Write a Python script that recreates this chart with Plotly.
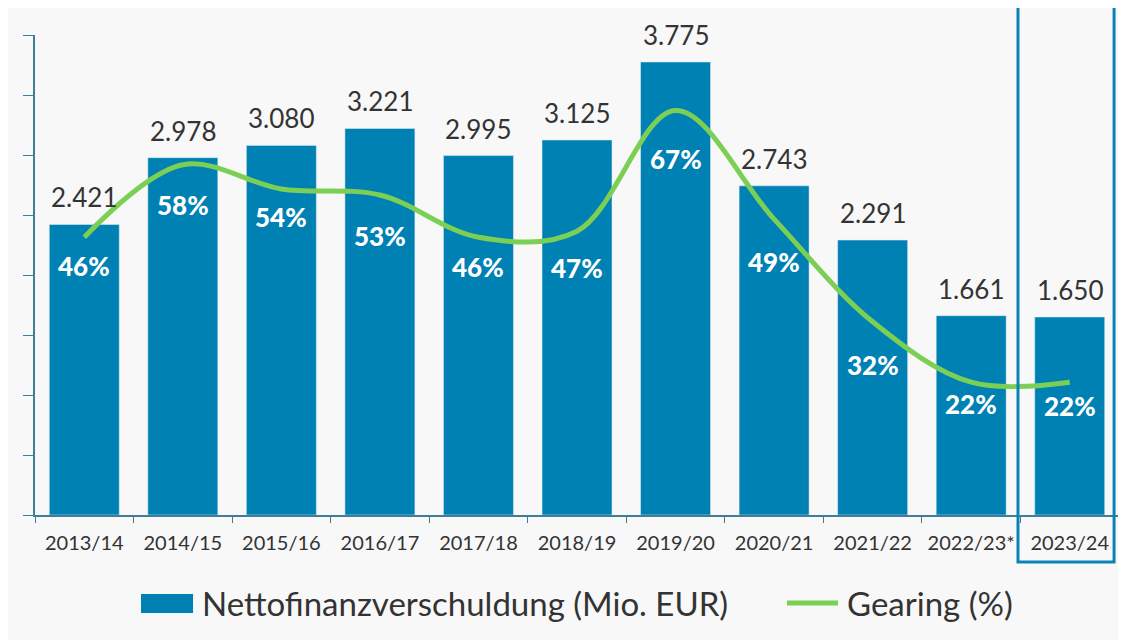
import plotly.graph_objects as go

jahre = ["2013/14", "2014/15", "2015/16", "2016/17", "2017/18", "2018/19",
         "2019/20", "2020/21", "2021/22", "2022/23*", "2023/24"]
verschuldung = [2421, 2978, 3080, 3221, 2995, 3125, 3775, 2743, 2291, 1661, 1650]
gearing = [46, 58, 54, 53, 46, 47, 67, 49, 32, 22, 22]

# Abstand der Prozent-Beschriftung unter der Linie (px)
label_abstand = [29, 40, 28, 41, 30, 37, 49, 43, 43, 22, 24]

blau = "#0081b4"
gruen = "#7ccf55"
achse = "#3f7d99"
schrift = "#333333"

fig = go.Figure()

# Balken: Nettofinanzverschuldung
fig.add_trace(go.Bar(
    x=jahre,
    y=verschuldung,
    name="Nettofinanzverschuldung (Mio. EUR)",
    marker=dict(color=blau),
    showlegend=False,
))

# Linie: Gearing auf zweiter Achse
fig.add_trace(go.Scatter(
    x=jahre,
    y=gearing,
    name="Gearing (%)",
    mode="lines",
    line=dict(color=gruen, width=5, shape="spline", smoothing=1.0),
    yaxis="y2",
    showlegend=False,
))

# Werte über den Balken
for j, v in zip(jahre, verschuldung):
    fig.add_annotation(x=j, y=v, text=f"{v:,}".replace(",", "."),
                       showarrow=False, yanchor="bottom", yshift=9,
                       font=dict(size=26, color=schrift))

# Prozentwerte unter der Linie
for j, g, d in zip(jahre, gearing, label_abstand):
    fig.add_annotation(x=j, y=g, yref="y2", text=f"<b>{g}%</b>",
                       showarrow=False, yanchor="middle", yshift=-d,
                       font=dict(size=26, color="white", family="Lato Black, Lato"))

# Markierung des aktuellen Jahres
fig.add_shape(type="rect", xref="x", yref="paper",
              x0=9.475, x1=10.45, y0=-0.098, y1=1.0646,
              line=dict(color="#0a84b8", width=3))
# x-Achse läuft bis zum Rand weiter
fig.add_shape(type="line", xref="paper", yref="paper",
              x0=1, x1=1.02, y0=0, y1=0, line=dict(color=achse, width=2))

# Legende von Hand (breites Balkensymbol wie im Original)
fig.add_shape(type="rect", xref="paper", yref="paper",
              x0=0.0978, x1=0.1458, y0=-0.204, y1=-0.1646,
              fillcolor=blau, line=dict(width=0))
fig.add_shape(type="line", xref="paper", yref="paper",
              x0=0.6937, x1=0.7408, y0=-0.1833, y1=-0.1833,
              line=dict(color=gruen, width=5))
fig.add_annotation(text="Nettofinanzverschuldung (Mio. EUR)", xref="paper", yref="paper",
                   x=0.1522, y=-0.1833, xanchor="left", yanchor="middle",
                   showarrow=False, font=dict(size=33, color=schrift))
fig.add_annotation(text="Gearing (%)", xref="paper", yref="paper",
                   x=0.7472, y=-0.1833, xanchor="left", yanchor="middle",
                   showarrow=False, font=dict(size=33, color=schrift))

fig.update_layout(
    width=1126, height=640,
    margin=dict(l=27, r=15, t=27, b=133),
    paper_bgcolor="#f8f8f8",
    plot_bgcolor="#f8f8f8",
    font=dict(family="Lato", color=schrift),
    bargap=0.29,
    showlegend=False,
    xaxis=dict(
        range=[-0.5, 10.5],
        showline=True, linecolor=achse, linewidth=2,
        ticks="outside", tickson="boundaries", ticklen=6, tickcolor=achse,
        tickfont=dict(size=20, color=schrift), ticklabelstandoff=9,
        showgrid=False,
    ),
    yaxis=dict(
        range=[0, 4000], dtick=500,
        showline=True, linecolor=achse, linewidth=2,
        ticks="outside", ticklen=10, tickcolor=achse,
        showticklabels=False, showgrid=False, zeroline=False,
    ),
    yaxis2=dict(range=[0, 79.5], overlaying="y", visible=False),
)

fig.write_html("out.html")
